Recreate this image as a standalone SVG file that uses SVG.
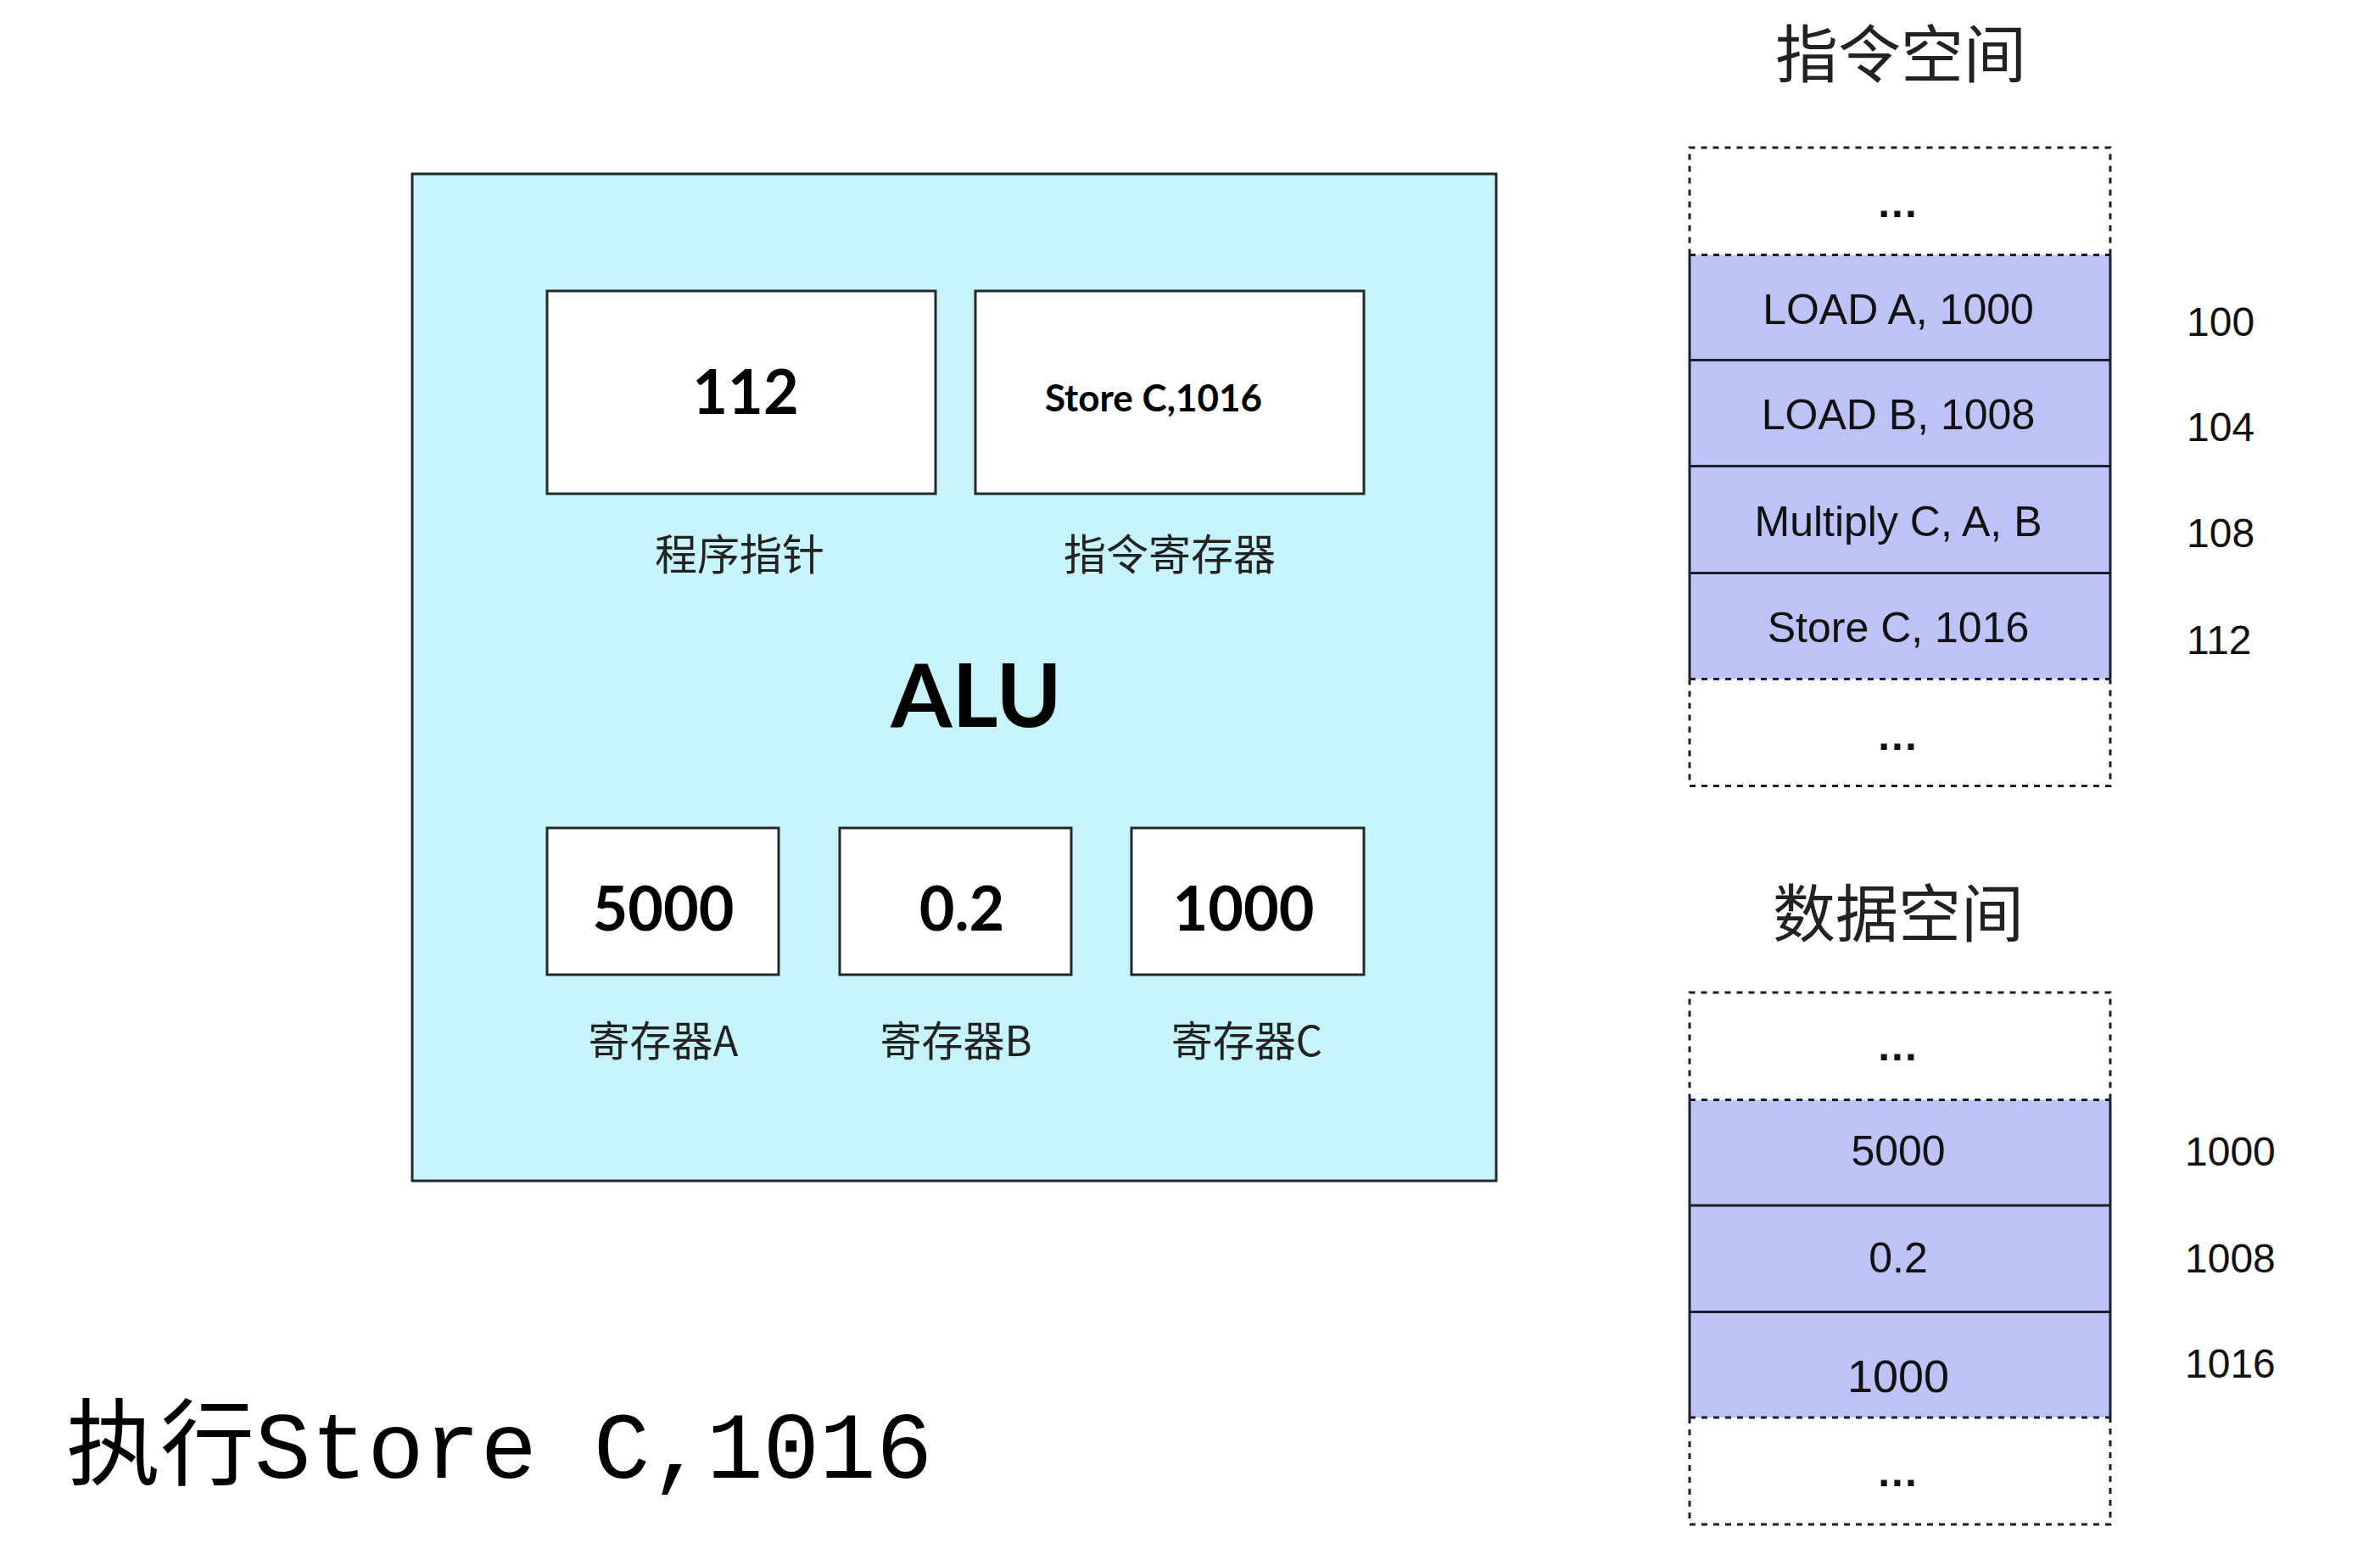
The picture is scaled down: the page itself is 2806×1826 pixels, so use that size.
<svg xmlns="http://www.w3.org/2000/svg" width="2806" height="1826" viewBox="0 0 2806 1826">
<style>
.bg{fill:#ffffff}
.alu{fill:#c7f4fb;stroke:#1e2a2c;stroke-width:3}
.reg{fill:#ffffff;stroke:#1e2a2c;stroke-width:3}
.big{font-family:Lato,"Liberation Sans",sans-serif;font-weight:700;fill:#000;text-anchor:middle}
.cjk{font-family:"Noto Sans CJK SC",sans-serif;fill:#222;text-anchor:middle}
.mem{font-family:"Liberation Sans",Arial,sans-serif;fill:#111;text-anchor:middle}
.addr{font-family:"Liberation Sans",Arial,sans-serif;fill:#111;text-anchor:start}
.cell{fill:#bdc3f6;stroke:none}
.solid{stroke:#1a1f2e;stroke-width:3;fill:none}
.dash{stroke:#1a1f2e;stroke-width:3;fill:none;stroke-dasharray:7 7}
.dots{font-family:"Liberation Sans",Arial,sans-serif;font-weight:700;fill:#111;text-anchor:middle;font-size:50px;letter-spacing:2px}
</style>
<rect class="bg" x="0" y="0" width="2806" height="1826"/>

<g id="cpu">
  <rect class="alu" x="486" y="205" width="1278" height="1187"/>
  <text class="big" x="1151" y="857" font-size="104">ALU</text>
</g>

<g id="pc">
  <rect class="reg" x="645" y="343" width="458" height="239"/>
  <text class="big" x="879" y="488" font-size="72">112</text>
  <text class="cjk" x="872" y="672" font-size="50">程序指针</text>
</g>
<g id="ir">
  <rect class="reg" x="1150" y="343" width="458" height="239"/>
  <text class="big" x="1360" y="485" font-size="44">Store C,1016</text>
  <text class="cjk" x="1379" y="672" font-size="50">指令寄存器</text>
</g>
<g id="regA">
  <rect class="reg" x="645" y="976" width="273" height="173"/>
  <text class="big" x="782" y="1097" font-size="72">5000</text>
  <text class="cjk" x="782" y="1245" font-size="49">寄存器A</text>
</g>
<g id="regB">
  <rect class="reg" x="990" y="976" width="273" height="173"/>
  <text class="big" x="1134" y="1097" font-size="72">0.2</text>
  <text class="cjk" x="1127" y="1245" font-size="49">寄存器B</text>
</g>
<g id="regC">
  <rect class="reg" x="1334" y="976" width="274" height="173"/>
  <text class="big" x="1466" y="1097" font-size="72">1000</text>
  <text class="cjk" x="1470" y="1245" font-size="49">寄存器C</text>
</g>

<g id="instr-space">
  <text class="cjk" x="2241" y="91" font-size="74" fill="#111">指令空间</text>
  <rect class="cell" x="1992" y="300.5" width="496" height="500"/>
  <path class="dash" d="M1992,300.5 V174 H2488 V300.5"/>
  <path class="dash" d="M1992,300.5 H2488"/>
  <path class="solid" d="M1992,300.5 V800.5 M2488,300.5 V800.5 M1992,424.5 H2488 M1992,549.5 H2488 M1992,675.5 H2488"/>
  <path class="dash" d="M1992,800.5 H2488"/>
  <path class="dash" d="M1992,800.5 V926.5 H2488 V800.5"/>
  <text class="dots" x="2238" y="256">...</text>
  <text class="mem" x="2238" y="382" font-size="50">LOAD A, 1000</text>
  <text class="mem" x="2238" y="506" font-size="50">LOAD B, 1008</text>
  <text class="mem" x="2238" y="632" font-size="50">Multiply C, A, B</text>
  <text class="mem" x="2238" y="757" font-size="50">Store C, 1016</text>
  <text class="dots" x="2238" y="884">...</text>
  <text class="addr" x="2578" y="396" font-size="48">100</text>
  <text class="addr" x="2578" y="520" font-size="48">104</text>
  <text class="addr" x="2578" y="645" font-size="48">108</text>
  <text class="addr" x="2578" y="771" font-size="48">112</text>
</g>

<g id="data-space">
  <text class="cjk" x="2238" y="1104" font-size="74" fill="#111">数据空间</text>
  <rect class="cell" x="1992" y="1296.5" width="496" height="374.5"/>
  <path class="dash" d="M1992,1296.5 V1170 H2488 V1296.5"/>
  <path class="dash" d="M1992,1296.5 H2488"/>
  <path class="solid" d="M1992,1296.5 V1671 M2488,1296.5 V1671 M1992,1421 H2488 M1992,1546.5 H2488"/>
  <path class="dash" d="M1992,1671 H2488"/>
  <path class="dash" d="M1992,1671 V1797 H2488 V1671"/>
  <text class="dots" x="2238" y="1250">...</text>
  <text class="mem" x="2238" y="1374" font-size="50">5000</text>
  <text class="mem" x="2238" y="1500" font-size="50">0.2</text>
  <text class="mem" x="2238" y="1641" font-size="54">1000</text>
  <text class="dots" x="2238" y="1752">...</text>
  <text class="addr" x="2576" y="1374" font-size="48">1000</text>
  <text class="addr" x="2576" y="1500" font-size="48">1008</text>
  <text class="addr" x="2576" y="1624" font-size="48">1016</text>
</g>

<g id="caption">
  <text x="78" y="1742" font-family="'Liberation Mono','Noto Sans CJK SC',monospace" font-size="111" fill="#000">执行Store C,1016</text>
</g>

<g id="connectors"></g>
</svg>
